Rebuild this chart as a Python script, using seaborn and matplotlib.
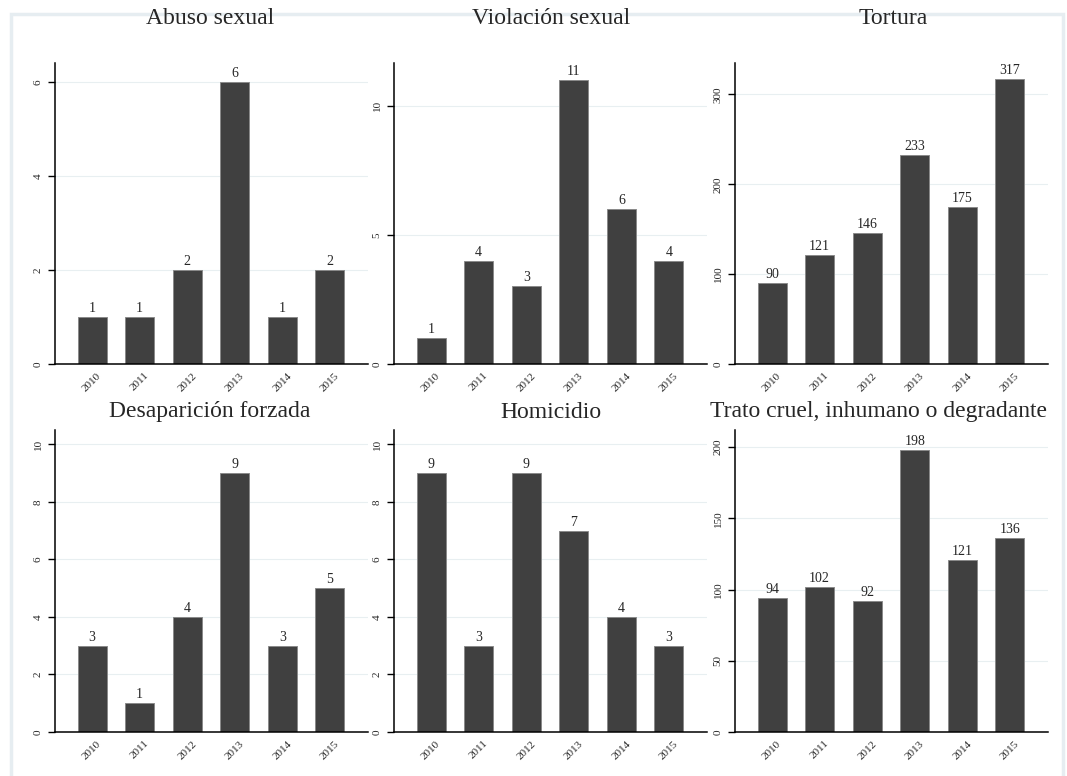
import matplotlib
matplotlib.use("Agg")
import matplotlib.pyplot as plt
import seaborn as sns
from matplotlib.patches import Rectangle

# data
years = ["2010", "2011", "2012", "2013", "2014", "2015"]
titles = ["Abuso sexual", "Violación sexual", "Tortura",
          "Desaparición forzada", "Homicidio", "Trato cruel, inhumano o degradante"]
abuso = [1, 1, 2, 6, 1, 2]
violacion = [1, 4, 3, 11, 6, 4]
tortura = [90, 121, 146, 233, 175, 317]
desaparicion = [3, 1, 4, 9, 3, 5]
homicidio = [9, 3, 9, 7, 4, 3]
trato = [94, 102, 92, 198, 121, 136]

series = [abuso, violacion, tortura, desaparicion, homicidio, trato]
yticks = [[0, 2, 4, 6], [0, 5, 10], [0, 100, 200, 300],
          [0, 2, 4, 6, 8, 10], [0, 2, 4, 6, 8, 10], [0, 50, 100, 150, 200]]
ytops = [6.4, 11.65, 335, 10.5, 10.5, 212]

sns.set_style("white")
plt.rcParams['font.family'] = ['Liberation Serif', 'DejaVu Serif']

W, H = 1067, 776
fig = plt.figure(figsize=(W / 100, H / 100), dpi=100)

# outer graph region frame (bottom runs off the image)
fig.patches.append(Rectangle((11 / W, -0.2), 1052 / W, 1.2 - 14 / H, transform=fig.transFigure,
                             fill=False, edgecolor='#e6edf1', lw=2.5, clip_on=False))

lefts = [55, 394, 735]
rows = [(63, 364), (430, 732)]
title_x = [210, 551, 893, 210, 551, 878]
title_y = [18, 412]

for i, vals in enumerate(series):
    r, c = divmod(i, 3)
    top, bot = rows[r]
    left = lefts[c]
    ax = fig.add_axes([left / W, 1 - bot / H, 313 / W, (bot - top) / H])
    sns.barplot(x=years, y=vals, color='#404040', saturation=1, width=0.61,
                edgecolor='#8a8a8a', linewidth=0.7, ax=ax)
    ax.bar_label(ax.containers[0], fontsize=10, padding=1.5)
    ax.set_xlim(-0.78, 5.8)
    ax.set_ylim(0, ytops[i])
    ax.set_yticks(yticks[i])
    ax.set_yticklabels([str(t) for t in yticks[i]], rotation=90, va='center', fontsize=8)
    ax.set_xticks(range(len(years)))
    ax.set_xticklabels(years, rotation=45, fontsize=8)
    ax.tick_params(axis='x', length=0, pad=5)
    ax.tick_params(axis='y', length=5, width=1, left=True, pad=4, color='black')
    for t in yticks[i][1:]:
        ax.axhline(t, color='#e8eff1', lw=0.8, zorder=0)
    ax.set_xlabel("")
    ax.set_ylabel("")
    for s in ['top', 'right']:
        ax.spines[s].set_visible(False)
    for s in ['left', 'bottom']:
        ax.spines[s].set_color('black')
        ax.spines[s].set_linewidth(1.1)
    fig.text(title_x[i] / W, 1 - title_y[r] / H, titles[i], ha='center', va='center', fontsize=17)

fig.savefig("out.png", dpi=100)
